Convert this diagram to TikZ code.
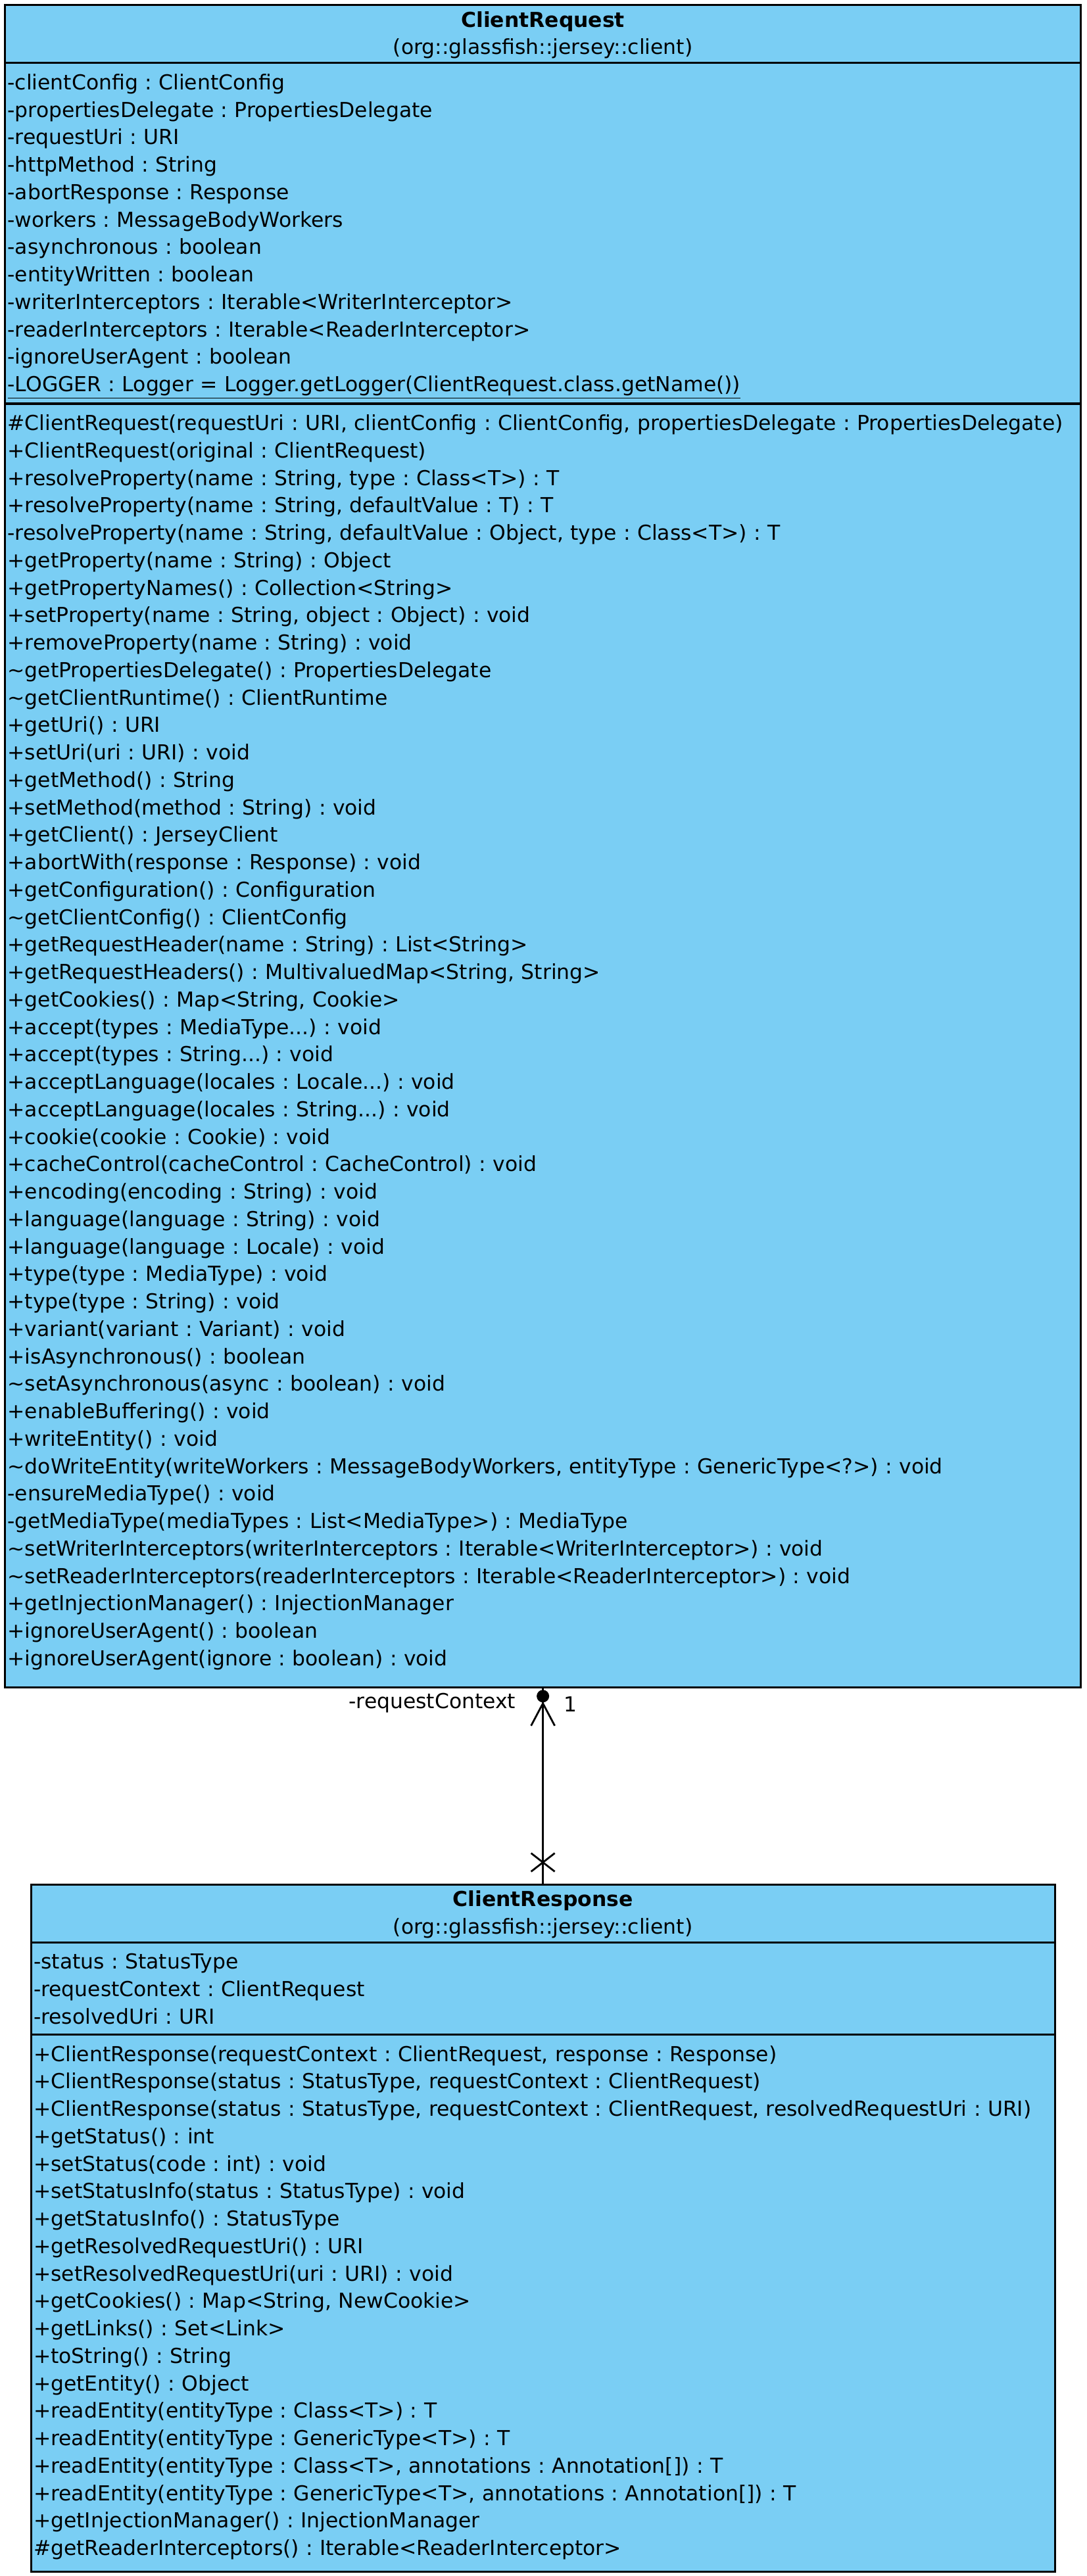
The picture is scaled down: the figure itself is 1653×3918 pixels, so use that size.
\documentclass[tikz,border=0pt]{standalone}
\usepackage{fontspec}
\setmainfont{DejaVu Sans}
\usepackage{tikz}
\usetikzlibrary{shapes.multipart,positioning}
\definecolor{classblue}{RGB}{122,206,244}
\newcommand{\padtop}[1]{\rule{0pt}{#1}}
\newcommand{\padbot}[1]{\rule[-#1]{0pt}{#1}}
\newcommand{\headline}[1]{\makebox[\hsize]{#1}}
\tikzset{
  umlclass/.style={draw=black, line width=1.6pt, fill=classblue,
    rectangle split, rectangle split parts=3, inner xsep=2pt, inner ysep=0pt,
    align=left, font=\fontsize{15.7}{20.875}\selectfont\frenchspacing},
  assoc/.style={line width=1.4pt},
  rolelabel/.style={inner sep=0pt, font=\fontsize{15.7}{20.875}\selectfont}
}

\begin{document}
\begin{tikzpicture}[x=0.5pt, y=-0.5pt]
\useasboundingbox (0,0) rectangle (1653,3918);

\node[umlclass, text width=814pt, anchor=north west] (req) at (6,6) {%
  \headline{\padtop{16pt}\textbf{ClientRequest}}\\
  \headline{(org::glassfish::jersey::client)\padbot{5.625pt}}%
  \nodepart{two}\padtop{19.5pt}-clientConfig : ClientConfig\\
  -propertiesDelegate : PropertiesDelegate\\
  -requestUri : URI\\
  -httpMethod : String\\
  -abortResponse : Response\\
  -workers : MessageBodyWorkers\\
  -asynchronous : boolean\\
  -entityWritten : boolean\\
  -writerInterceptors : Iterable<WriterInterceptor>\\
  -readerInterceptors : Iterable<ReaderInterceptor>\\
  -ignoreUserAgent : boolean\\
  \underline{-LOGGER : Logger = Logger.getLogger(ClientRequest.class.getName())}\padbot{8.375pt}%
  \nodepart{three}\padtop{19.5pt}\#ClientRequest(requestUri : URI, clientConfig : ClientConfig, propertiesDelegate : PropertiesDelegate)\\
  +ClientRequest(original : ClientRequest)\\
  +resolveProperty(name : String, type : Class<T>) : T\\
  +resolveProperty(name : String, defaultValue : T) : T\\
  -resolveProperty(name : String, defaultValue : Object, type : Class<T>) : T\\
  +getProperty(name : String) : Object\\
  +getPropertyNames() : Collection<String>\\
  +setProperty(name : String, object : Object) : void\\
  +removeProperty(name : String) : void\\
  \textasciitilde getPropertiesDelegate() : PropertiesDelegate\\
  \textasciitilde getClientRuntime() : ClientRuntime\\
  +getUri() : URI\\
  +setUri(uri : URI) : void\\
  +getMethod() : String\\
  +setMethod(method : String) : void\\
  +getClient() : JerseyClient\\
  +abortWith(response : Response) : void\\
  +getConfiguration() : Configuration\\
  \textasciitilde getClientConfig() : ClientConfig\\
  +getRequestHeader(name : String) : List<String>\\
  +getRequestHeaders() : MultivaluedMap<String, String>\\
  +getCookies() : Map<String, Cookie>\\
  +accept(types : MediaType...) : void\\
  +accept(types : String...) : void\\
  +acceptLanguage(locales : Locale...) : void\\
  +acceptLanguage(locales : String...) : void\\
  +cookie(cookie : Cookie) : void\\
  +cacheControl(cacheControl : CacheControl) : void\\
  +encoding(encoding : String) : void\\
  +language(language : String) : void\\
  +language(language : Locale) : void\\
  +type(type : MediaType) : void\\
  +type(type : String) : void\\
  +variant(variant : Variant) : void\\
  +isAsynchronous() : boolean\\
  \textasciitilde setAsynchronous(async : boolean) : void\\
  +enableBuffering() : void\\
  +writeEntity() : void\\
  \textasciitilde doWriteEntity(writeWorkers : MessageBodyWorkers, entityType : GenericType<?>) : void\\
  -ensureMediaType() : void\\
  -getMediaType(mediaTypes : List<MediaType>) : MediaType\\
  \textasciitilde setWriterInterceptors(writerInterceptors : Iterable<WriterInterceptor>) : void\\
  \textasciitilde setReaderInterceptors(readerInterceptors : Iterable<ReaderInterceptor>) : void\\
  +getInjectionManager() : InjectionManager\\
  +ignoreUserAgent() : boolean\\
  +ignoreUserAgent(ignore : boolean) : void\padbot{15.6pt}};

\node[umlclass, text width=774.5pt, below=148.4pt of req] (resp) {%
  \headline{\padtop{16pt}\textbf{ClientResponse}}\\
  \headline{(org::glassfish::jersey::client)\padbot{5.625pt}}%
  \nodepart{two}\padtop{19.5pt}-status : StatusType\\
  -requestContext : ClientRequest\\
  -resolvedUri : URI\padbot{7.25pt}%
  \nodepart{three}\padtop{19.5pt}+ClientResponse(requestContext : ClientRequest, response : Response)\\
  +ClientResponse(status : StatusType, requestContext : ClientRequest)\\
  +ClientResponse(status : StatusType, requestContext : ClientRequest, resolvedRequestUri : URI)\\
  +getStatus() : int\\
  +setStatus(code : int) : void\\
  +setStatusInfo(status : StatusType) : void\\
  +getStatusInfo() : StatusType\\
  +getResolvedRequestUri() : URI\\
  +setResolvedRequestUri(uri : URI) : void\\
  +getCookies() : Map<String, NewCookie>\\
  +getLinks() : Set<Link>\\
  +toString() : String\\
  +getEntity() : Object\\
  +readEntity(entityType : Class<T>) : T\\
  +readEntity(entityType : GenericType<T>) : T\\
  +readEntity(entityType : Class<T>, annotations : Annotation[]) : T\\
  +readEntity(entityType : GenericType<T>, annotations : Annotation[]) : T\\
  +getInjectionManager() : InjectionManager\\
  \#getReaderInterceptors() : Iterable<ReaderInterceptor>\padbot{11.5pt}};

\draw[assoc] (resp.north) -- (req.south);
\fill ([yshift=-6pt]req.south) circle (4.75pt);
\draw[assoc] ([xshift=-9pt,yshift=-28.5pt]req.south) -- ([yshift=-11.5pt]req.south) -- ([xshift=9pt,yshift=-28.5pt]req.south);
\draw[assoc] ([xshift=-9pt,yshift=23pt]resp.north) -- ([xshift=9pt,yshift=9pt]resp.north);
\draw[assoc] ([xshift=-9pt,yshift=9pt]resp.north) -- ([xshift=9pt,yshift=23pt]resp.north);
\node[rolelabel, anchor=base east] (role) at ([xshift=-20.5pt,yshift=-15.5pt]req.south) {-requestContext};
\node[rolelabel, anchor=base west] (mult) at ([xshift=15.5pt,yshift=-18pt]req.south) {1};
\end{tikzpicture}
\end{document}
